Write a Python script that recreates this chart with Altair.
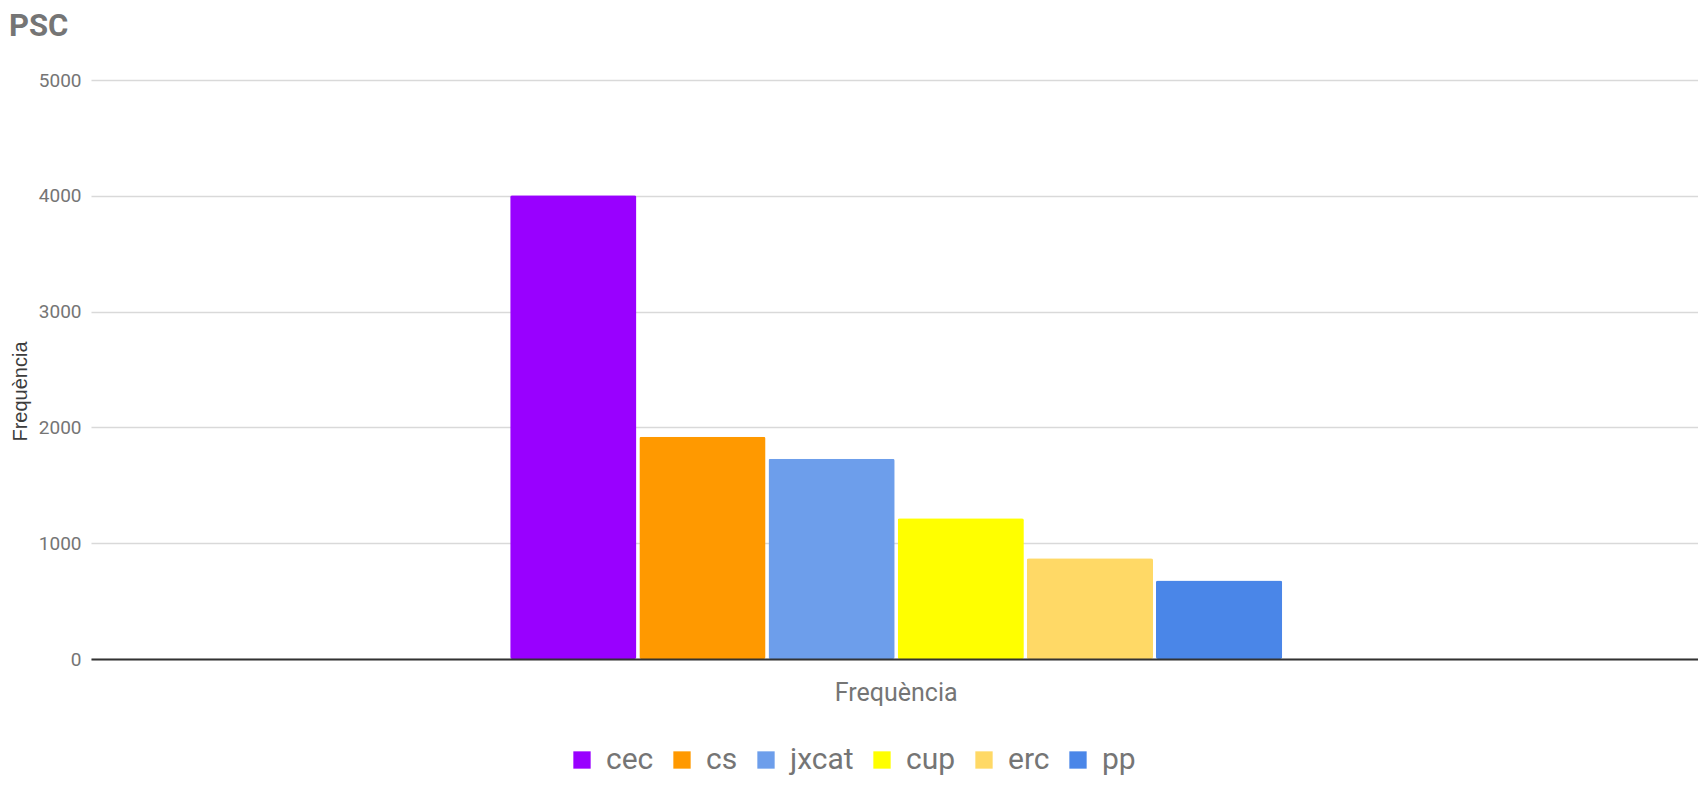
import altair as alt
import pandas as pd

parties = ["cec", "cs", "jxcat", "cup", "erc", "pp"]
values = [4005, 1920, 1730, 1215, 870, 678]
colors = ["#9900ff", "#ff9900", "#6d9eeb", "#ffff00", "#ffd966", "#4a86e8"]
category = "Frequència"
y_ticks = [0, 1000, 2000, 3000, 4000, 5000]

df = pd.DataFrame({"grp": [category] * len(parties), "party": parties, "value": values})

FONT = "Roboto, sans-serif"
GREY = "#757575"

chart = alt.Chart(df).mark_bar(cornerRadius=2).encode(
    x=alt.X(
        "grp:N",
        scale=alt.Scale(paddingOuter=0.5408, paddingInner=0, align=0.502),
        axis=alt.Axis(
            title=None, labelAngle=0, labelFont=FONT, labelFontSize=25,
            labelColor=GREY, labelPadding=21, ticks=False, tickSize=0,
            domain=True, domainColor="#333333", domainWidth=2, grid=False,
            zindex=1,
        ),
    ),
    xOffset=alt.XOffset("party:N", sort=parties,
                        scale=alt.Scale(paddingInner=0.023, paddingOuter=0)),
    y=alt.Y(
        "value:Q",
        scale=alt.Scale(domain=[0, 5000], nice=False),
        axis=alt.Axis(
            values=y_ticks, format="d", title="Frequència",
            titleFont="Liberation Sans, Arial, sans-serif", titleFontSize=20,
            titleFontWeight="normal", titleColor="#3c3c3c",
            titleAngle=270, titleX=-81, titleY=311, titleAlign="center",
            titleBaseline="top",
            labelFont=FONT, labelFontSize=19, labelColor=GREY,
            labelPadding=10, ticks=False, tickSize=0, domain=False,
            gridColor="#d9d9d9", gridWidth=1.5,
        ),
    ),
    color=alt.Color(
        "party:N", sort=parties,
        scale=alt.Scale(domain=parties, range=colors),
        legend=alt.Legend(
            title=None, orient="none", legendX=476, legendY=665,
            direction="horizontal", symbolType="square", symbolSize=300,
            symbolStrokeWidth=0, labelFont=FONT, labelFontSize=30,
            labelColor=GREY, columnPadding=13, labelOffset=9, padding=0,
            labelLimit=0,
        ),
    ),
).properties(
    width=1607,
    height=579,
    title=alt.TitleParams(
        "PSC", anchor="start", frame="group", dx=-82, offset=28,
        font=FONT, fontSize=31, fontWeight="bold", color=GREY,
    ),
    autosize=alt.AutoSizeParams(type="none"),
    padding={"left": 83, "top": 72, "right": 0, "bottom": 119},
).configure(background="white").configure_view(stroke=None, strokeWidth=0)

chart.save("out.html", embed_options={"renderer": "svg", "actions": False})
